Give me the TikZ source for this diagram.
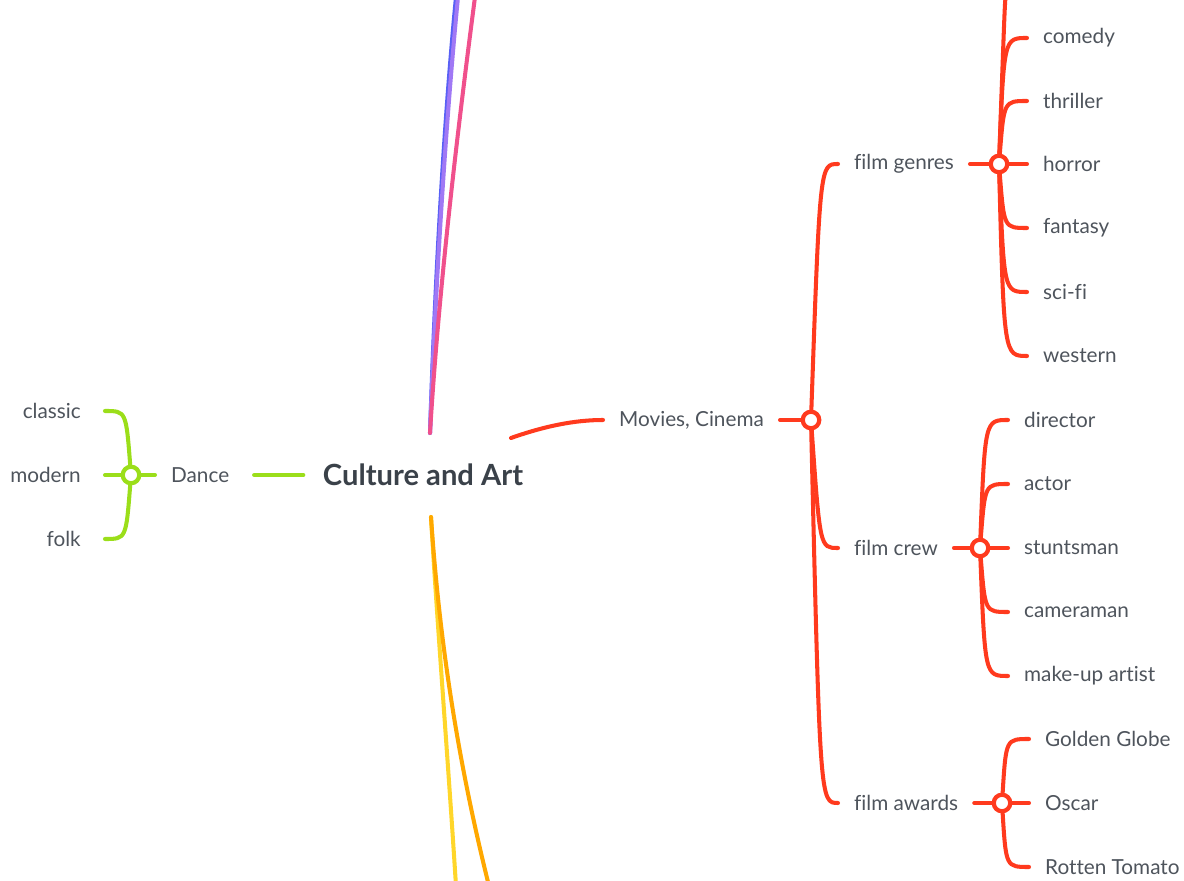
\documentclass[tikz,border=0pt]{standalone}
\usepackage{fontspec}
\setmainfont{Lato}[Ligatures=NoCommon]
\usepackage{xcolor}
\usepackage{tikz}
\usetikzlibrary{positioning,calc}
\definecolor{movred}{RGB}{255,58,30}
\definecolor{dancegreen}{RGB}{155,222,26}
\definecolor{txtgray}{RGB}{78,84,92}
\definecolor{titlegray}{RGB}{58,65,73}
\definecolor{lineblue}{RGB}{88,96,245}
\definecolor{linepurple}{RGB}{160,120,245}
\definecolor{linepink}{RGB}{240,80,140}
\definecolor{lineyellow}{RGB}{255,214,42}
\definecolor{lineorange}{RGB}{255,168,0}
\tikzset{leaf/.style={font=\fontsize{11.8}{14}\selectfont,text=txtgray,inner ysep=2pt,inner xsep=9pt},
  leaf right/.style={leaf,anchor=west},
  leaf left/.style={leaf,anchor=east,inner xsep=13.6pt},
  hub/.style={circle,draw=#1,fill=white,line width=2.4pt,minimum size=9.4pt,inner sep=0pt},
  wire/.style={line width=2.3pt,line cap=round},
  branch/.style={wire,to path={.. controls ($(\tikztostart |- \tikztotarget)+(#1,0)$) and ($(\tikztostart |- \tikztotarget)+(#1,0)$) .. (\tikztotarget) \tikztonodes}},}

\begin{document}
\begin{tikzpicture}[x=0.02cm,y=-0.02cm]
    \useasboundingbox (0,0) rectangle (1184,881);

    \node[font=\fontsize{16.6}{19}\selectfont\bfseries,text=titlegray,inner xsep=11pt] (art) at (423,475) {Culture and Art};
    \coordinate (top hub) at (430,433);
    \coordinate (bottom hub) at (431,517);
    \coordinate (right hub) at (511,438);
    \coordinate (blue end) at (456,-3);
    \coordinate (purple end) at (458,-3);
    \coordinate (pink end) at (475,-3);
    \coordinate (yellow end) at (456,886);
    \coordinate (orange end) at (489,886);

    % branches cut off by the page
    \draw[wire,lineblue] (top hub) .. controls (436,250) and (446,100) .. (blue end);
    \draw[wire,linepurple] (top hub) .. controls (437,250) and (448,100) .. (purple end);
    \draw[wire,linepink] (top hub) .. controls (438,300) and (455,150) .. (pink end);
    \draw[wire,lineyellow] (bottom hub) .. controls (437,620) and (448,760) .. (yellow end);
    \draw[wire,lineorange] (bottom hub) .. controls (440,650) and (460,770) .. (orange end);

    % dance
    \node[leaf right] (dance) at (155,475) {Dance};
    \node[hub=dancegreen] (jd) at (131,475) {};
    \node[leaf left] (classic) at (105,411) {classic};
    \node[leaf left] (modern) at (105,475) {modern};
    \node[leaf left] (folk) at (105,539) {folk};

    \draw[wire,dancegreen,shorten <=5pt] (dance.east) -- (art.west);
    \path[draw,dancegreen]
    (dance) edge[wire] (jd)
    (jd) edge[branch=-5] (classic.east)
    (jd) edge[branch=-5] (modern.east)
    (jd) edge[branch=-5] (folk.east)
    ;

    % movies
    \node[leaf right] (movies) at (603,420) {Movies, Cinema};
    \node[hub=movred] (jm) at (811,420) {};
    \node[leaf right] (genres) at (838,164) {film genres};
    \node[leaf right] (crew) at (838,548) {film crew};
    \node[leaf right] (awards) at (838,803) {film awards};

    \draw[wire,movred] (right hub) .. controls (545,426) and (575,420) .. (movies.west);
    \path[draw,movred]
    (movies) edge[wire] (jm)
    (jm) edge[branch=9] (genres.west)
    (jm) edge[branch=9] (crew.west)
    (jm) edge[branch=9] (awards.west)
    ;

    % film genres
    \node[hub=movred] (jg) at (999,164) {};
    \coordinate (genres top) at (1006,-3);
    \node[leaf right] (comedy) at (1027,38) {comedy};
    \node[leaf right] (thriller) at (1027,101) {thriller};
    \node[leaf right] (horror) at (1027,164) {horror};
    \node[leaf right] (fantasy) at (1027,228) {fantasy};
    \node[leaf right] (scifi) at (1027,292) {sci-fi};
    \node[leaf right] (western) at (1027,356) {western};

    \path[draw,movred]
    (genres) edge[wire] (jg)
    (jg) edge[branch=6] (genres top)
    (jg) edge[branch=5] (comedy.west)
    (jg) edge[branch=5] (thriller.west)
    (jg) edge[branch=5] (horror.west)
    (jg) edge[branch=5] (fantasy.west)
    (jg) edge[branch=5] (scifi.west)
    (jg) edge[branch=5] (western.west)
    ;

    % film crew
    \node[hub=movred] (jc) at (980,548) {};
    \node[leaf right] (director) at (1008,420) {director};
    \node[leaf right] (actor) at (1008,484) {actor};
    \node[leaf right] (stunt) at (1008,548) {stuntsman};
    \node[leaf right] (camera) at (1008,612) {cameraman};
    \node[leaf right] (makeup) at (1008,676) {make-up artist};

    \path[draw,movred]
    (crew) edge[wire] (jc)
    (jc) edge[branch=5] (director.west)
    (jc) edge[branch=5] (actor.west)
    (jc) edge[branch=5] (stunt.west)
    (jc) edge[branch=5] (camera.west)
    (jc) edge[branch=5] (makeup.west)
    ;

    % film awards
    \node[hub=movred] (ja) at (1002,803) {};
    \node[leaf right] (globe) at (1029,739) {Golden Globe};
    \node[leaf right] (oscar) at (1029,803) {Oscar};
    \node[leaf right] (tomato) at (1029,867) {Rotten Tomato};

    \path[draw,movred]
    (awards) edge[wire] (ja)
    (ja) edge[branch=4] (globe.west)
    (ja) edge[branch=4] (oscar.west)
    (ja) edge[branch=4] (tomato.west)
    ;
\end{tikzpicture}
\end{document}
